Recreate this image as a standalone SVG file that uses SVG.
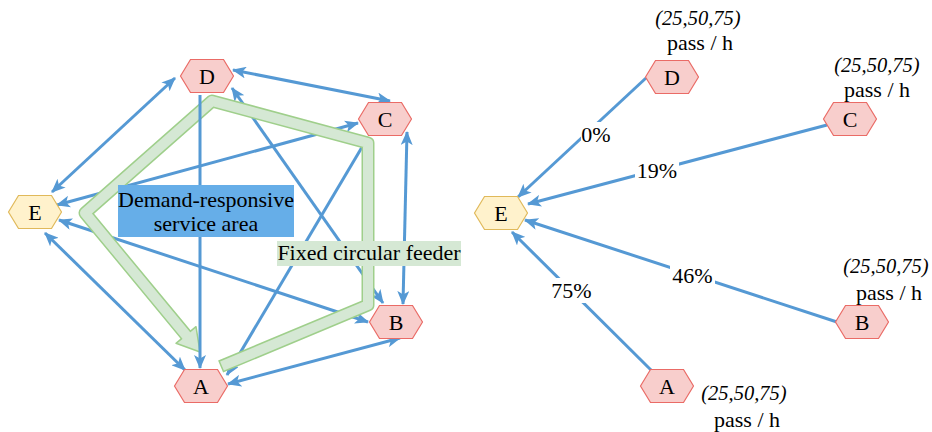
<svg xmlns="http://www.w3.org/2000/svg" width="932" height="432" viewBox="0 0 932 432">
<style>
.e{fill:none;stroke:#5599d4;stroke-width:3;}
.bi{marker-start:url(#ah);marker-end:url(#ah);}
.to{marker-end:url(#ah);}
.pk{fill:#f8cecc;stroke:#ea6b66;stroke-width:1.2;}
.yl{fill:#fff2cc;stroke:#e0b95a;stroke-width:1.2;}
text{font-family:'Liberation Serif','Times New Roman',Times,'DejaVu Serif',serif;fill:#000;font-size:22px;text-anchor:middle;}
.it{font-style:italic;font-size:20.5px;}
.lbg{fill:#fff;}
</style>
<defs>
<marker id="ah" viewBox="0 0 14 12" refX="13" refY="6" markerWidth="14" markerHeight="12" markerUnits="userSpaceOnUse" orient="auto-start-reverse">
<path d="M0,0 L14,6 L0,12 L3.5,6 Z" fill="#5599d4"/>
</marker>
<path id="hex" d="M-26.5,0 L-16.5,-16.5 L16.5,-16.5 L26.5,0 L16.5,16.5 L-16.5,16.5 Z"/>
</defs>
<rect width="932" height="432" fill="#fff"/>

<g id="connectors-left">
<path class="e bi" d="M175,78 L52,192"/>
<path class="e bi" d="M233,70 L390,101"/>
<path class="e bi" d="M407,132 L403,304"/>
<path class="e bi" d="M400,338 L228,384"/>
<path class="e bi" d="M185,370 L45,233"/>
<path class="e bi" d="M57,205 L358,123"/>
<path class="e bi" d="M59,220 L368,322"/>
<path class="e bi" d="M232,88 L383,303"/>
<path class="e to" d="M368,137 L227,375"/>
</g>

<g id="feeder-route">
<path d="M220.6,366.6 L368,305 L368,143 L212,101 L85,213 L186,335" fill="none" stroke="#9fcf8b" stroke-width="13" stroke-linejoin="round"/>
<polygon points="196,326.7 200,352 176,343.3" fill="#d5e8d4" stroke="#9fcf8b" stroke-width="1.5" stroke-linejoin="round"/>
<path d="M222,366 L368,305 L368,143 L212,101 L85,213 L188,337.5" fill="none" stroke="#d5e8d4" stroke-width="10" stroke-linejoin="round"/>
</g>

<g id="connector-DA">
<path class="e to" d="M200,95 L200,368"/>
</g>

<g id="label-demand">
<rect x="118" y="185" width="176" height="52" fill="#66aee8"/>
<text x="206" y="207">Demand-responsive</text>
<text x="206" y="231">service area</text>
</g>
<g id="label-feeder">
<rect x="277" y="241" width="184" height="25" fill="#d5e8d4"/>
<text x="369" y="260">Fixed circular feeder</text>
</g>

<g id="L-D"><use href="#hex" class="pk" x="207" y="76"/><text x="207" y="84">D</text></g>
<g id="L-C"><use href="#hex" class="pk" x="385" y="119"/><text x="385" y="127">C</text></g>
<g id="L-E"><use href="#hex" class="yl" x="35" y="212"/><text x="35" y="220">E</text></g>
<g id="L-B"><use href="#hex" class="pk" x="396" y="322"/><text x="396" y="330">B</text></g>
<g id="L-A"><use href="#hex" class="pk" x="201" y="386"/><text x="201" y="394">A</text></g>

<g id="connectors-right">
<path class="e to" d="M646,78 L518,197"/>
<path class="e to" d="M827,125 L528,204"/>
<path class="e to" d="M837,322 L525,220"/>
<path class="e to" d="M652,371 L512,232"/>
<rect class="lbg" x="581" y="122" width="30" height="24"/>
<text x="596" y="142">0%</text>
<rect class="lbg" x="635" y="160" width="44" height="24"/>
<text x="657" y="178">19%</text>
<rect class="lbg" x="670" y="263" width="45" height="25"/>
<text x="692.5" y="283">46%</text>
<rect class="lbg" x="550" y="278" width="43" height="25"/>
<text x="571.5" y="298">75%</text>
</g>

<g id="R-D"><use href="#hex" class="pk" x="672" y="77"/><text x="672" y="85">D</text>
<text class="it" x="698" y="25">(25,50,75)</text><text x="700" y="50">pass / h</text></g>
<g id="R-C"><use href="#hex" class="pk" x="850" y="119"/><text x="850" y="127">C</text>
<text class="it" x="877" y="72">(25,50,75)</text><text x="877" y="97">pass / h</text></g>
<g id="R-E"><use href="#hex" class="yl" x="501" y="213"/><text x="501" y="221">E</text></g>
<g id="R-B"><use href="#hex" class="pk" x="862" y="322"/><text x="862" y="330">B</text>
<text class="it" x="886" y="273">(25,50,75)</text><text x="889" y="300">pass / h</text></g>
<g id="R-A"><use href="#hex" class="pk" x="667" y="386"/><text x="667" y="394">A</text>
<text class="it" x="744" y="400">(25,50,75)</text><text x="747" y="427">pass / h</text></g>
</svg>
